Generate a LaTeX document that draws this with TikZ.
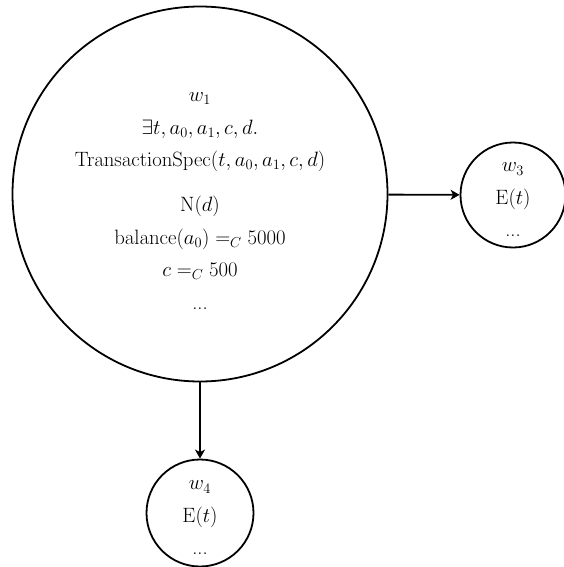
\documentclass[tikz,border=0pt]{standalone}
\usetikzlibrary{arrows.meta}
\begin{document}
\begin{tikzpicture}[x=1pt,y=-1pt,
  world/.style={circle,draw,line width=1.8pt,inner sep=0pt},
  worldtext/.style={align=center,inner sep=0pt,font=\fontsize{20.5}{32.5}\selectfont},
  link/.style={line width=1.8pt,-{Stealth[length=9pt,width=10pt,inset=2.5pt]}}]
\useasboundingbox (0,0) rectangle (564,567);
% initial world with its assumptions
\node[world,minimum size=375pt] (w1) at (200,194) {};
\node[worldtext] (w1text) at (200,201)
  {$w_1$\\
   $\exists t, a_0, a_1, c, d.$\\
   $\mathrm{TransactionSpec}(t, a_0, a_1, c, d)$\\[12.5pt]
   $\mathrm{N}(d)$\\
   $\mathrm{balance}(a_0) =_C 5000$\\
   $c =_C 500$\\
   ...};
% successor worlds
\node[world,minimum size=105pt] (w3) at (513,195) {};
\node[worldtext] (w3text) at (513,200) {$w_3$\\ $\mathrm{E}(t)$\\ ...};
\node[world,minimum size=107pt] (w4) at (200,513) {};
\node[worldtext] (w4text) at (200,518) {$w_4$\\ $\mathrm{E}(t)$\\ ...};
\draw[link] (w1) -- (w3);
\draw[link] (w1) -- (w4);
\end{tikzpicture}
\end{document}
